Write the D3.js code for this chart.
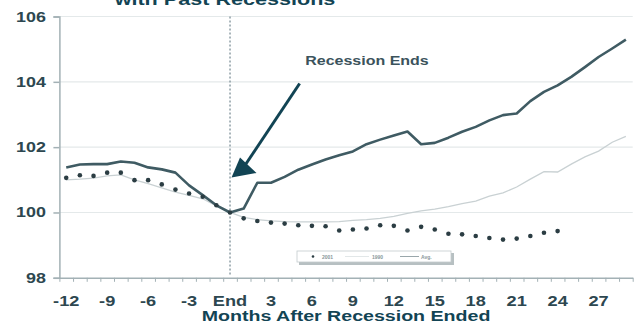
<!DOCTYPE html>
<html>
<head>
<meta charset="utf-8">
<script src="https://cdn.jsdelivr.net/npm/d3@7"></script>
<style>
  html, body { margin: 0; padding: 0; background: #ffffff; }
  svg { display: block; }
  text { font-family: "Liberation Sans", Arial, sans-serif; font-weight: bold; }
</style>
</head>
<body>
<svg id="chart" width="639" height="325"></svg>
<script>
// Months relative to the end of the recession
const monthsPre = [-12, -11, -10, -9, -8, -7, -6, -5, -4, -3, -2, -1];
const monthsPost = [0, 1, 2, 3, 4, 5, 6, 7, 8, 9, 10, 11, 12, 13, 14, 15, 16, 17, 18, 19, 20, 21, 22, 23, 24, 25, 26, 27, 28, 29];

// Index (month of recession end = 100)
const currentCycle = [101.06, 101.14, 101.12, 101.22, 101.22, 100.99, 100.99, 100.86, 100.70, 100.58, 100.48, 100.22,
  100.0, 99.82, 99.74, 99.69, 99.66, 99.61, 99.59, 99.58, 99.45, 99.48, 99.51, 99.61, 99.59, 99.45, 99.56, 99.48,
  99.35, 99.33, 99.28, 99.22, 99.17, 99.20, 99.28, 99.38, 99.43];
const cycleA = [101.38, 101.47, 101.48, 101.48, 101.56, 101.52, 101.38, 101.32, 101.22, 100.83, 100.53, 100.22,
  100.0, 100.12, 100.91, 100.91, 101.09, 101.31, 101.47, 101.62, 101.75, 101.87, 102.09, 102.23, 102.36, 102.48,
  102.09, 102.13, 102.29, 102.47, 102.62, 102.82, 102.98, 103.03, 103.41, 103.69, 103.89, 104.15, 104.45, 104.76,
  105.02, 105.29];
const cycleB = [101.0, 101.02, 101.05, 101.12, 101.15, 101.0, 100.88, 100.75, 100.62, 100.52, 100.42, 100.2,
  100.0, 99.85, 99.78, 99.74, 99.72, 99.71, 99.71, 99.71, 99.72, 99.76, 99.78, 99.82, 99.88, 99.97, 100.05, 100.1,
  100.18, 100.27, 100.35, 100.5, 100.6, 100.78, 101.02, 101.25, 101.24, 101.48, 101.7, 101.88, 102.15, 102.33];

const yTicks = [98, 100, 102, 104, 106];
const xTickMonths = [-12, -9, -6, -3, 0, 3, 6, 9, 12, 15, 18, 21, 24, 27];
const xTickLabels = ["-12", "-9", "-6", "-3", "End", "3", "6", "9", "12", "15", "18", "21", "24", "27"];
const legendLabels = ["2001", "1990", "Avg."];

const titleText = "with Past Recessions";
const xTitle = "Months After Recession Ended";
const annotation = "Recession Ends";

const allMonths = monthsPre.concat(monthsPost);

const svg = d3.select("#chart");
const x = d3.scaleLinear().domain([-12.5, 29.5]).range([59.4, 632.7]);
const y = d3.scaleLinear().domain([98, 106]).range([277.8, 16.5]);

const textDark = "#2d4750";
const teal = "#124454";

// horizontally widened text helper
function wideText(g, tx, ty, str, size, sx, anchor, fill) {
  return g.append("text")
    .attr("transform", `translate(${tx},${ty}) scale(${sx},1)`)
    .attr("text-anchor", anchor)
    .attr("font-size", size)
    .attr("fill", fill)
    .text(str);
}

// title (cropped at the top edge)
wideText(svg, 225, 5, titleText, 17, 1.27, "middle", teal);

// gridlines
svg.append("g").selectAll("line").data(yTicks.filter(d => d !== 98)).join("line")
  .attr("x1", x.range()[0]).attr("x2", x.range()[1])
  .attr("y1", d => y(d)).attr("y2", d => y(d))
  .attr("stroke", "#e4e9ea").attr("stroke-width", 1.2);

// y axis
const yAxis = svg.append("g").attr("transform", `translate(${x.range()[0]},0)`)
  .call(d3.axisLeft(y).tickValues(yTicks).tickSize(6).tickFormat(""));
yAxis.select(".domain").attr("stroke", "#a3b1b5").attr("stroke-width", 1.5);
yAxis.selectAll(".tick line").attr("stroke", "#a3b1b5").attr("stroke-width", 1.5);
yTicks.forEach(v => wideText(svg, 46, y(v) + 5, String(v), 14, 1.28, "end", textDark));

// x axis with tick marks between months
const boundaries = d3.range(-12.5, 29.6, 1);
const xAxis = svg.append("g").attr("transform", `translate(0,${y(98)})`)
  .call(d3.axisBottom(x).tickValues(boundaries).tickSize(4).tickSizeOuter(0).tickFormat(""));
xAxis.select(".domain").attr("stroke", "#a3b1b5").attr("stroke-width", 1.5);
xAxis.selectAll(".tick line").attr("stroke", "#a3b1b5").attr("stroke-width", 1);
xTickMonths.forEach((m, i) => wideText(svg, x(m), 306, xTickLabels[i], 14, 1.3, "middle", textDark));
wideText(svg, 346, 321, xTitle, 14, 1.4, "middle", teal);

// recession-end marker
svg.append("line")
  .attr("x1", x(0)).attr("x2", x(0)).attr("y1", y(106)).attr("y2", y(98) - 3)
  .attr("stroke", "#7d9098").attr("stroke-width", 1.3).attr("stroke-dasharray", "2,2");

// series lines
const line = d3.line().x((d, i) => x(allMonths[i])).y(d => y(d));
svg.append("path").datum(cycleB).attr("d", line)
  .attr("fill", "none").attr("stroke", "#c9d1d3").attr("stroke-width", 1.3);
svg.append("path").datum(cycleA).attr("d", line)
  .attr("fill", "none").attr("stroke", "#3f5b63").attr("stroke-width", 2.6).attr("stroke-linejoin", "round");

// current cycle as markers
svg.append("g").selectAll("circle").data(currentCycle).join("circle")
  .attr("cx", (d, i) => x(allMonths[i])).attr("cy", d => y(d)).attr("r", 2.3)
  .attr("fill", "#2b3d43");

// annotation and arrow
wideText(svg, 367, 65, annotation, 12.5, 1.28, "middle", "#3b535c");
const tip = [x(0) + 1.5, y(101.07)];
svg.append("line")
  .attr("x1", x(5.1)).attr("y1", y(103.95))
  .attr("x2", tip[0] + 12).attr("y2", tip[1] - 10)
  .attr("stroke", teal).attr("stroke-width", 3);
svg.append("path")
  .attr("d", `M${tip[0]},${tip[1]} L${tip[0] + 8.5},${tip[1] - 20} L${tip[0] + 25},${tip[1] - 4.5} Z`)
  .attr("fill", teal);

// legend
const lg = svg.append("g");
lg.append("rect").attr("x", 299).attr("y", 253).attr("width", 155).attr("height", 12).attr("fill", "#b7c0c2");
lg.append("rect").attr("x", 297).attr("y", 251).attr("width", 154).attr("height", 11)
  .attr("fill", "#ffffff").attr("stroke", "#c3cbcd").attr("stroke-width", 0.8);
lg.append("circle").attr("cx", 313).attr("cy", 256.5).attr("r", 1.3).attr("fill", "#2b3d43");
lg.append("text").attr("x", 322).attr("y", 258.5).attr("font-size", 5).attr("fill", "#8a979b").text(legendLabels[0]);
lg.append("line").attr("x1", 345).attr("x2", 369).attr("y1", 256.5).attr("y2", 256.5).attr("stroke", "#e2e7e8").attr("stroke-width", 1);
lg.append("text").attr("x", 372).attr("y", 258.5).attr("font-size", 5).attr("fill", "#8a979b").text(legendLabels[1]);
lg.append("line").attr("x1", 400).attr("x2", 419).attr("y1", 256.5).attr("y2", 256.5).attr("stroke", "#9aa7ab").attr("stroke-width", 1);
lg.append("text").attr("x", 421).attr("y", 258.5).attr("font-size", 5).attr("fill", "#8a979b").text(legendLabels[2]);
</script>
</body>
</html>
